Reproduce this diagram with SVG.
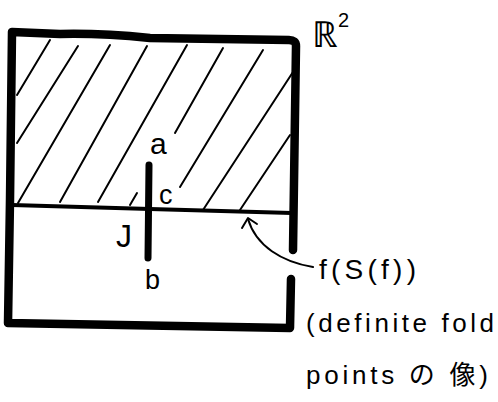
<svg xmlns="http://www.w3.org/2000/svg" width="498" height="402" viewBox="0 0 498 402">
  <style>
    .frame { fill: none; stroke: #000; stroke-width: 8.5; stroke-linecap: round; stroke-linejoin: round; }
    .fold { fill: none; stroke: #000; stroke-width: 4; stroke-linecap: round; }
    .seg { fill: none; stroke: #000; stroke-width: 7; stroke-linecap: round; }
    .hatch { fill: none; stroke: #000; stroke-width: 2; stroke-linecap: round; }
    .conn { fill: none; stroke: #000; stroke-width: 2; stroke-linecap: round; stroke-linejoin: round; }
    .lbl { font-family: "Liberation Sans", "Noto Sans CJK JP", sans-serif; fill: #000; }
  </style>
  <rect width="498" height="402" fill="#fff"/>

  <g id="plane">
    <path class="frame" d="M 293 250 L 296 46 Q 296 40 289 40 L 150 38 Q 100 33 60 34 L 12 32 L 10 200 L 8 323 L 290 328 L 291 279"/>
    <text class="lbl" x="312" y="47" font-size="36">ℝ<tspan font-size="20" dy="-20">2</tspan></text>
  </g>

  <g id="hatching">
    <path class="hatch" d="M 50 40 L 17 95"/>
    <path class="hatch" d="M 78 46 L 17 143"/>
    <path class="hatch" d="M 110 45 L 18 203"/>
    <path class="hatch" d="M 147 46 L 60 202"/>
    <path class="hatch" d="M 187 45 L 98 202"/>
    <path class="hatch" d="M 223 48 L 175 133"/>
    <path class="hatch" d="M 137 193 L 130 205"/>
    <path class="hatch" d="M 263 50 L 180 187"/>
    <path class="hatch" d="M 293 72 L 203 210"/>
    <path class="hatch" d="M 290 135 L 240 210"/>
  </g>

  <g id="fold-image">
    <path class="fold" d="M 12 205 L 150 209 L 292 213"/>
  </g>

  <g id="segment-J">
    <path class="seg" d="M 149 165 L 148 258"/>
    <text class="lbl" x="150" y="154" font-size="30">a</text>
    <text class="lbl" x="159" y="204" font-size="27">c</text>
    <text class="lbl" x="116" y="247" font-size="32">J</text>
    <text class="lbl" x="145" y="289" font-size="27">b</text>
  </g>

  <g id="annotation">
    <text class="lbl" x="319" y="279" font-size="28" textLength="97" lengthAdjust="spacing">f(S(f))</text>
    <text class="lbl" x="306" y="332" font-size="26" textLength="188" lengthAdjust="spacing">(definite fold</text>
    <text class="lbl" x="306" y="384" font-size="26" textLength="182" lengthAdjust="spacing">points の 像)</text>
  </g>

  <g id="connectors">
    <path class="conn" d="M 313 267 C 282 262, 256 246, 248 219"/>
    <path class="conn" d="M 242 228 L 248 218 L 257 224"/>
  </g>
</svg>
